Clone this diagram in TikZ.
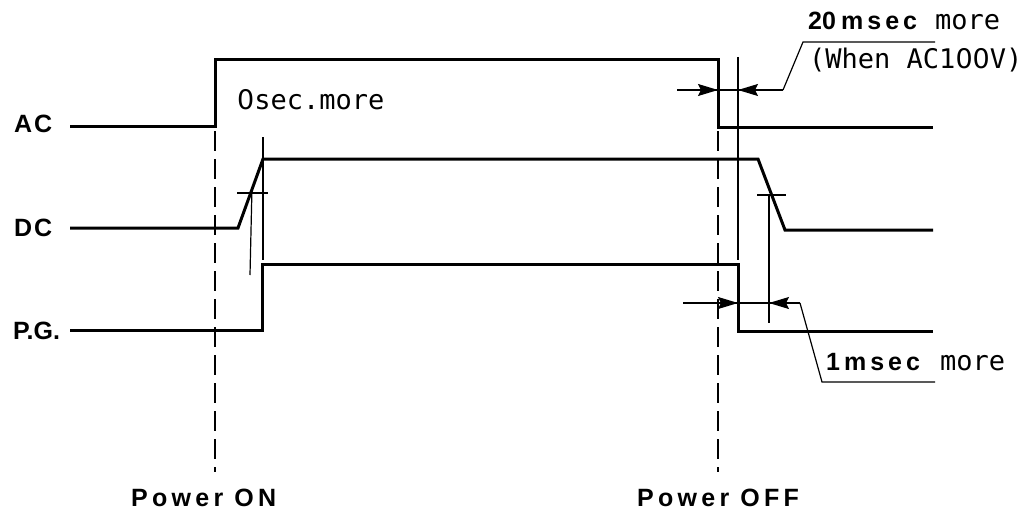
\documentclass[tikz,border=0pt]{standalone}
\usepackage{fontspec}
\setmainfont{Liberation Sans}
\newfontfamily\monof{DejaVu Sans Mono}
\newfontfamily\plainzerof{DejaVu Sans}
\newfontfamily\spacedf{Liberation Sans}[LetterSpace=17]
\newfontfamily\labelf{Liberation Sans}[LetterSpace=8]
\newfontfamily\boldf{Liberation Sans}[LetterSpace=16]
\newcommand{\pz}{{\plainzerof 0}}
\usetikzlibrary{arrows.meta}
\begin{document}
\begin{tikzpicture}[x=1pt,y=-1pt,
  signal/.style={line width=3pt, line join=miter},
  thinline/.style={line width=1.2pt},
  guide/.style={line width=1.3pt, dash pattern=on 20pt off 8pt},
  tipline/.style={-{Stealth[length=20pt,width=12pt,inset=3pt]}, line width=1.2pt},
  lbl/.style={inner sep=0pt, anchor=base west, font=\labelf\fontsize{25}{30}\selectfont\bfseries},
  spaced/.style={inner sep=0pt, anchor=base west, font=\spacedf\fontsize{25}{30}\selectfont\bfseries},
  boldtxt/.style={inner sep=0pt, anchor=base west, font=\boldf\fontsize{25}{30}\selectfont\bfseries},
  mono/.style={inner sep=0pt, anchor=base west, font=\monof\fontsize{27}{30}\selectfont}]
\useasboundingbox (0,0) rectangle (1021,519);

% signal labels
\node[lbl] (lac) at (14,132) {AC};
\node[lbl] (ldc) at (14,236) {DC};
\node[font=\fontsize{25}{30}\selectfont\bfseries, inner sep=0pt, anchor=base west] (lpg) at (13,339) {P.G.};

% waveform coordinates
\coordinate (ac0) at (70,126);  \coordinate (ac1) at (215,126);
\coordinate (ac2) at (215,60);  \coordinate (ac3) at (718,60);
\coordinate (ac4) at (718,127); \coordinate (ac5) at (933,127);
\coordinate (dc0) at (70,228);  \coordinate (dc1) at (238,228);
\coordinate (dc2) at (263,159); \coordinate (dc3) at (758,159);
\coordinate (dc4) at (785,230); \coordinate (dc5) at (933,230);
\coordinate (pg0) at (70,330);  \coordinate (pg1) at (262,330);
\coordinate (pg2) at (262,264); \coordinate (pg3) at (738,264);
\coordinate (pg4) at (738,331); \coordinate (pg5) at (933,331);

\draw[signal] (ac0) -- (ac1) -- (ac2) -- (ac3) -- (ac4) -- (ac5);
\draw[signal] (dc0) -- (dc1) -- (dc2) -- (dc3) -- (dc4) -- (dc5);
\draw[signal] (pg0) -- (pg1) -- (pg2) -- (pg3) -- (pg4) -- (pg5);

% dashed power on / off guides
\coordinate (onTop) at (215,131);  \coordinate (onBot) at (215,472);
\coordinate (offTop) at (718,131); \coordinate (offBot) at (718,472);
\draw[guide] (onTop) -- (onBot);
\draw[guide] (offTop) -- (offBot);

% rise marks (power on)
\coordinate (r1a) at (263,137); \coordinate (r1b) at (263,260);
\coordinate (r2a) at (252,187); \coordinate (r2b) at (250,275);
\coordinate (r3a) at (237,193); \coordinate (r3b) at (268,193);
\draw[thinline] (r1a) -- (r1b);
\draw[thinline] (r2a) -- (r2b);
\draw[thinline] (r3a) -- (r3b);

% fall marks (power off)
\coordinate (f1a) at (738,57);  \coordinate (f1b) at (738,260);
\coordinate (f2a) at (769,195); \coordinate (f2b) at (769,323);
\coordinate (f3a) at (757,195); \coordinate (f3b) at (786,195);
\draw[thinline] (f1a) -- (f1b);
\draw[thinline] (f2a) -- (f2b);
\draw[thinline] (f3a) -- (f3b);

% AC hold-up dimension
\coordinate (aL) at (677,90);  \coordinate (aT1) at (718,90);
\coordinate (aT2) at (738,90); \coordinate (aR) at (783,90);
\coordinate (aK) at (803,42);  \coordinate (aE) at (935,42);
\draw[thinline] (aL) -- (aR);
\draw[tipline] (aL) -- (aT1);
\draw[tipline] (aR) -- (aT2);
\draw[thinline] (aR) -- (aK) -- (aE);

% P.G. dimension
\coordinate (pL) at (683,303); \coordinate (pT1) at (738,303);
\coordinate (pT2) at (769,303); \coordinate (pR) at (800,303);
\coordinate (pK) at (822,382); \coordinate (pE) at (935,382);
\draw[thinline] (pL) -- (pR);
\draw[tipline] (pL) -- (pT1);
\draw[tipline] (pR) -- (pT2);
\draw[thinline] (pR) -- (pK) -- (pE);

% texts
\node[mono] (t0) at (237,110) {\pz sec.more};
\node[font=\fontsize{25}{30}\selectfont\bfseries, inner sep=0pt, anchor=base west] (t20) at (808,30) {20};
\node[boldtxt] (t20b) at (841,30) {msec};
\node[mono] (t20m) at (935,30) {more};
\node[mono] (twhen) at (809,69) {(When AC1\pz\pz V)};
\node[boldtxt] (t1) at (826,370) {1msec};
\node[mono] (t1m) at (940,370) {more};
\node[spaced] (pon) at (131,506) {Power ON};
\node[spaced] (poff) at (637,506) {Power OFF};
\end{tikzpicture}
\end{document}
